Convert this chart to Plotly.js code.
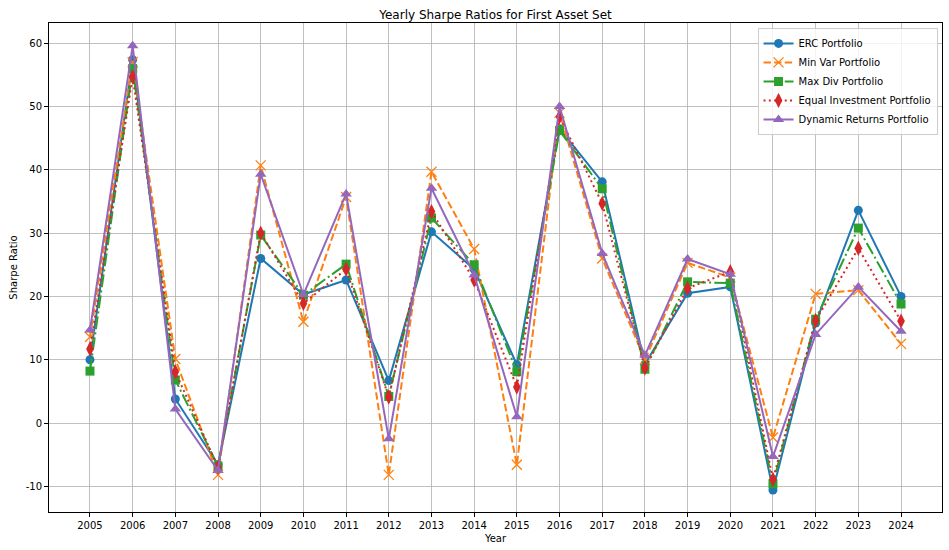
<!DOCTYPE html>
<html>
<head>
<meta charset="utf-8">
<script src="https://cdn.plot.ly/plotly-3.0.1.min.js"></script>
<style>
  html, body { margin: 0; padding: 0; background: #ffffff; }
  #chart { width: 949px; height: 550px; }
</style>
</head>
<body>
<div id="chart"></div>
<script>
const years = [2005, 2006, 2007, 2008, 2009, 2010, 2011, 2012, 2013, 2014,
               2015, 2016, 2017, 2018, 2019, 2020, 2021, 2022, 2023, 2024];

const ercValues     = [10.0, 57.4, 3.8, -6.6, 26.0, 20.3, 22.6, 6.7, 30.2, 24.3,
                       9.2, 46.5, 38.1, 9.3, 20.5, 21.5, -10.6, 15.8, 33.6, 20.0];
const minVarValues  = [13.6, 57.0, 10.1, -8.2, 40.7, 16.0, 35.7, -8.2, 39.7, 27.5,
                       -6.6, 49.0, 26.0, 10.0, 25.3, 23.0, -2.3, 20.4, 21.0, 12.5];
const maxDivValues  = [8.2, 56.0, 6.8, -6.8, 29.7, 20.2, 25.1, 4.2, 32.4, 25.0,
                       8.1, 46.2, 37.0, 8.5, 22.3, 22.1, -9.6, 16.4, 30.8, 18.8];
const equalValues   = [11.7, 54.7, 8.1, -7.0, 30.0, 18.9, 24.3, 4.1, 33.4, 22.6,
                       5.7, 48.4, 34.7, 8.7, 21.3, 23.9, -8.9, 16.2, 27.6, 16.1];
const dynamicValues = [14.7, 59.6, 2.2, -7.5, 39.3, 20.3, 36.2, -2.5, 37.1, 23.4,
                       1.0, 50.0, 26.8, 10.7, 25.9, 23.5, -5.3, 14.0, 21.5, 14.5];

const seriesNames = ["ERC Portfolio", "Min Var Portfolio", "Max Div Portfolio",
                     "Equal Investment Portfolio", "Dynamic Returns Portfolio"];
const yTicks = [-10, 0, 10, 20, 30, 40, 50, 60];

const seriesValues = [ercValues, minVarValues, maxDivValues, equalValues, dynamicValues];

const styles = [
  { color: "#1f77b4", dash: "solid", symbol: "circle", size: 9 },
  { color: "#ff7f0e", dash: "7.4px,3.2px", symbol: "x-thin-open", size: 10 },
  { color: "#2ca02c", dash: "12.8px,3.2px,2px,3.2px", symbol: "square", size: 9 },
  { color: "#d62728", dash: "2px,3.3px", symbol: "diamond-tall", size: 11 },
  { color: "#9467bd", dash: "solid", symbol: "triangle-up", size: 10 }
];

const traces = seriesValues.map((vals, i) => ({
  type: "scatter",
  mode: "lines+markers",
  name: seriesNames[i],
  x: years,
  y: vals,
  line: { color: styles[i].color, width: 2, dash: styles[i].dash },
  marker: {
    symbol: styles[i].symbol,
    size: styles[i].size,
    color: styles[i].color,
    line: { color: styles[i].color, width: styles[i].symbol === "x-thin-open" ? 1.3 : 0 }
  }
}));

const axisCommon = {
  showline: true,
  mirror: true,
  linecolor: "#000000",
  linewidth: 1,
  showgrid: true,
  gridcolor: "#b0b0b0",
  gridwidth: 0.8,
  zeroline: false,
  ticks: "outside",
  ticklen: 4,
  tickcolor: "#000000",
  tickfont: { size: 10, color: "#000000" }
};

const layout = {
  width: 949,
  height: 550,
  margin: { l: 49, r: 7, t: 23, b: 38 },
  paper_bgcolor: "#ffffff",
  plot_bgcolor: "#ffffff",
  font: { family: "DejaVu Sans, sans-serif", size: 10, color: "#000000" },
  title: {
    text: "Yearly Sharpe Ratios for First Asset Set",
    font: { size: 12, color: "#000000" },
    x: 0.5,
    xref: "paper",
    y: 1,
    yref: "paper",
    yanchor: "bottom",
    pad: { b: 4 }
  },
  xaxis: Object.assign({}, axisCommon, {
    title: { text: "Year", font: { size: 10 }, standoff: 4 },
    range: [2004.04, 2024.96],
    tickmode: "array",
    tickvals: years,
    ticktext: years.map(String)
  }),
  yaxis: Object.assign({}, axisCommon, {
    title: { text: "Sharpe Ratio", font: { size: 10 }, standoff: 6 },
    range: [-14.06, 63.2],
    tickmode: "array",
    tickvals: yTicks,
    ticktext: yTicks.map(String)
  }),
  showlegend: true,
  legend: {
    x: 0.995,
    y: 0.99,
    xanchor: "right",
    yanchor: "top",
    bgcolor: "rgba(255,255,255,0.8)",
    bordercolor: "#cccccc",
    borderwidth: 1,
    font: { size: 10 },
    tracegroupgap: 0,
    itemwidth: 30
  }
};

Plotly.newPlot("chart", traces, layout, { displayModeBar: false, staticPlot: true });
</script>
</body>
</html>
